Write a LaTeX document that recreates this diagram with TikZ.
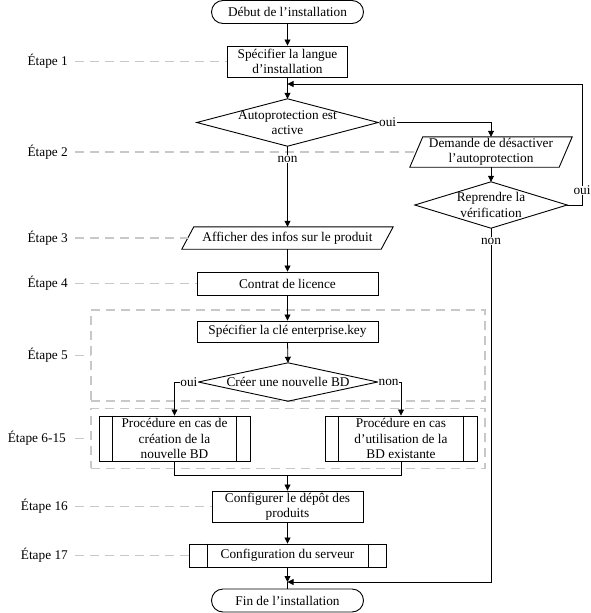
\documentclass[tikz,border=0pt]{standalone}
\usepackage{fontspec}
\setmainfont{Liberation Serif}
\usetikzlibrary{arrows.meta,calc}
\definecolor{guidegray}{RGB}{200,200,200}
\tikzset{
  base/.style={font=\fontsize{13.3}{15.3}\selectfont, align=center, inner sep=1pt},
  term/.style={base, draw, line width=0.9pt, rounded corners=11.5pt, minimum width=152pt, minimum height=23pt},
  stepbox/.style={base, draw, line width=0.9pt, minimum width=#1},
  para/.style={base, minimum width=#1},
  dec/.style={base, minimum width=#1},
  subp/.style={base, draw, line width=0.9pt, minimum width=#1},
  group/.style={draw=guidegray, dashed, dash pattern=on 9pt off 6pt, line width=1.1pt, minimum width=394pt},
  guide/.style={draw=guidegray, dash pattern=on 9pt off 6pt, line width=1.1pt},
  etape/.style={base, anchor=east},
  lbl/.style={base, fill=white, inner sep=0.5pt},
  arr/.style={line width=0.8pt, -{Triangle[length=6pt,width=6pt]}},
  conn/.style={line width=0.8pt},
  edge/.style={line width=0.9pt},
}
\begin{document}
\begin{tikzpicture}[x=1pt,y=-1pt]
\useasboundingbox (0,0) rectangle (591,613);
% groups
\node[group, minimum height=91pt] (g1) at (288,355.5) {};
\node[group, minimum height=59.5pt] (g2) at (288,438.5) {};
% main nodes
\node[term] (start) at (287.5,12) {Début de l’installation};
\node[stepbox=120pt, minimum height=31pt] (s1) at (287.5,61.5) {Spécifier la langue\\d’installation};
\node[dec=181pt, minimum height=47pt] (d1) at (287.5,122.5) {Autoprotection est\\active};
\node[para=149pt, minimum height=30pt] (p1) at (491,152) {Demande de désactiver\\l’autoprotection};
\node[dec=152pt, minimum height=46pt] (d2) at (491,205) {Reprendre la\\vérification};
\node[para=199pt, minimum height=22pt] (p2) at (287.5,238) {Afficher des infos sur le produit};
\node[stepbox=181pt, minimum height=23pt] (s4) at (287.5,283.5) {Contrat de licence};
\node[stepbox=181pt, minimum height=21pt] (s5) at (287.5,331.5) {Spécifier la clé enterprise.key};
\node[dec=179pt, minimum height=38pt] (d3) at (288,382) {Créer une nouvelle BD};
\node[subp=151pt, minimum height=45pt] (sp1) at (174.5,438.5) {Procédure en cas de\\création de la\\nouvelle BD};
\node[subp=152pt, minimum height=45pt] (sp2) at (401,438.5) {Procédure en cas\\d’utilisation de la\\BD existante};
\node[stepbox=151pt, minimum height=31pt] (s16) at (287.5,506.5) {Configurer le dépôt des\\produits};
\node[subp=197pt, minimum height=23pt] (sp3) at (287.5,555.5) {Configuration du serveur};
\node[term] (fin) at (287.5,600.5) {Fin de l’installation};
% shapes drawn around invisible nodes
\draw[edge] (d1.west) -- (d1.north) -- (d1.east) -- (d1.south) -- cycle;
\draw[edge] (d2.west) -- (d2.north) -- (d2.east) -- (d2.south) -- cycle;
\draw[edge] (d3.west) -- (d3.north) -- (d3.east) -- (d3.south) -- cycle;
\draw[edge] ([xshift=6.5pt]p1.north west) -- ([xshift=6.5pt]p1.north east) -- ([xshift=-6.5pt]p1.south east) -- ([xshift=-6.5pt]p1.south west) -- cycle;
\draw[edge] ([xshift=6pt]p2.north west) -- ([xshift=6pt]p2.north east) -- ([xshift=-6pt]p2.south east) -- ([xshift=-6pt]p2.south west) -- cycle;
\foreach \n/\o in {sp1/14pt, sp2/14pt, sp3/18.5pt}{
  \draw[edge] ([xshift=\o]\n.north west) -- ([xshift=\o]\n.south west);
  \draw[edge] ([xshift=-\o]\n.north east) -- ([xshift=-\o]\n.south east);
}
% etapes
\node[etape] (e1) at (69,61.5) {Étape 1};
\node[etape] (e2) at (69,152) {Étape 2};
\node[etape] (e3) at (69,238) {Étape 3};
\node[etape] (e4) at (69,283.5) {Étape 4};
\node[etape] (e5) at (69,355.5) {Étape 5};
\node[etape] (e6) at (67,438.5) {Étape 6-15};
\node[etape] (e16) at (69,506.5) {Étape 16};
\node[etape] (e17) at (69,555.5) {Étape 17};
\draw[guide] ([xshift=6pt]e1.east) -- (e1.east -| s1.west);
\draw[guide] ([xshift=6pt]e2.east) -- (e2.east -| p1.west);
\draw[guide] ([xshift=6pt]e3.east) -- (e3.east -| p2.west);
\draw[guide] ([xshift=6pt]e4.east) -- (e4.east -| s4.west);
\draw[guide] ([xshift=6pt]e5.east) -- (e5.east -| g1.west);
\draw[guide] ([xshift=8pt]e6.east) -- (e6.east -| g2.west);
\draw[guide] ([xshift=6pt]e16.east) -- (e16.east -| s16.west);
\draw[guide] ([xshift=6pt]e17.east) -- (e17.east -| sp3.west);
% coordinates
\coordinate (j0) at (287.5,84);
\coordinate (loopR) at (582,84);
\coordinate (j1) at (287.5,475);
\coordinate (j2) at (287.5,582);
% connectors
\draw[arr] (start) -- (s1);
\draw[arr] (s1) -- (d1.north);
\draw[arr] (d1.east) -| node[lbl, anchor=west, pos=0]{oui} (p1.north);
\draw[arr] (p1.south) -- (d2.north);
\draw[arr] (d2.east) -| node[lbl, pos=0.56]{oui} (loopR) -- (j0);
\draw[arr] (d1.south) -- node[lbl, pos=0.16]{non} (p2.north);
\draw[arr] (d2.south) |- node[lbl, pos=0.018]{non} (j2);
\draw[arr] (p2.south) -- (s4.north);
\draw[arr] (s4.south) -- (s5.north);
\draw[arr] (s5.south) -- (d3.north);
\draw[arr] (d3.west) -| node[lbl, anchor=east, pos=0]{oui} (sp1.north);
\draw[arr] (d3.east) -| node[lbl, anchor=west, pos=0]{non} (sp2.north);
\draw[conn] (sp1.south) |- (j1);
\draw[conn] (sp2.south) |- (j1);
\draw[arr] (j1) -- (s16.north);
\draw[arr] (s16.south) -- (sp3.north);
\draw[arr] (sp3.south) -- (j2);
\draw[conn] (j2) -- (fin.north);
\end{tikzpicture}
\end{document}
